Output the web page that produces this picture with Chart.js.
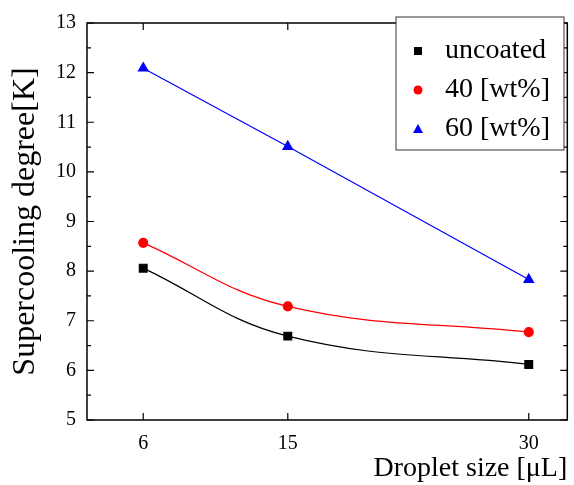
<!DOCTYPE html>
<html>
<head>
<meta charset="utf-8">
<script src="https://cdn.jsdelivr.net/npm/chart.js@4.4.0/dist/chart.umd.min.js"></script>
<style>
  html, body { margin: 0; padding: 0; background: #fff; }
  #wrap { width: 574px; height: 485px; }
</style>
</head>
<body>
<div id="wrap"><canvas id="myChart" width="574" height="485"></canvas></div>
<script>
// data
var dropletSize = [6, 15, 30];
var uncoated = [8.06, 6.69, 6.12];
var wt40 = [8.57, 7.29, 6.77];
var wt60 = [12.09, 10.51, 7.83];
var xTicks = [6, 15, 30];
var yTicks = [5, 6, 7, 8, 9, 10, 11, 12, 13];

var serif = "'Liberation Serif', 'Times New Roman', serif";

function toPoints(xs, ys) {
    var pts = [];
    for (var i = 0; i < xs.length; i++) {
        pts.push({ x: xs[i], y: ys[i] });
    }
    return pts;
}

// frame, inward ticks and the boxed legend
var framePlugin = {
    id: 'frame',
    afterDraw: function (chart) {
        var ctx = chart.ctx;
        var a = chart.chartArea;
        var xs = chart.scales.x, ys = chart.scales.y;
        ctx.save();
        ctx.strokeStyle = '#000';
        ctx.lineWidth = 1.5;
        ctx.strokeRect(a.left, a.top, a.right - a.left, a.bottom - a.top);

        ctx.lineWidth = 1.2;
        ctx.beginPath();
        // y major + minor
        for (var v = 5; v <= 13; v += 0.5) {
            var py = ys.getPixelForValue(v);
            var len = (v % 1 === 0) ? 7 : 4;
            ctx.moveTo(a.left, py); ctx.lineTo(a.left + len, py);
            ctx.moveTo(a.right, py); ctx.lineTo(a.right - len, py);
        }
        // x major
        xTicks.forEach(function (t) {
            var px = xs.getPixelForValue(t);
            ctx.moveTo(px, a.bottom); ctx.lineTo(px, a.bottom - 7);
            ctx.moveTo(px, a.top); ctx.lineTo(px, a.top + 7);
        });
        ctx.stroke();

        // legend
        var lx = 396, ly = 17, lw = 168, lh = 133;
        ctx.lineWidth = 1;
        ctx.strokeStyle = '#333';
        ctx.fillStyle = '#fff';
        ctx.fillRect(lx, ly, lw, lh);
        ctx.strokeRect(lx, ly, lw, lh);
        var rows = [
            { label: 'uncoated', color: '#000', style: 'rect' },
            { label: '40 [wt%]', color: '#ff0000', style: 'circle' },
            { label: '60 [wt%]', color: '#0000ff', style: 'triangle' }
        ];
        ctx.font = 'normal 28px ' + serif;
        ctx.textBaseline = 'middle';
        rows.forEach(function (r, i) {
            var cy = 51 + i * 39;
            ctx.fillStyle = r.color;
            ctx.beginPath();
            if (r.style === 'rect') {
                ctx.rect(414, cy - 4, 8, 8);
            } else if (r.style === 'circle') {
                ctx.arc(418, cy, 4.5, 0, Math.PI * 2);
            } else {
                ctx.moveTo(418, cy - 5); ctx.lineTo(423, cy + 4); ctx.lineTo(413, cy + 4); ctx.closePath();
            }
            ctx.fill();
            ctx.fillStyle = '#000';
            ctx.fillText(r.label, 445, cy);
        });
        ctx.restore();
    }
};

var config = {
    type: 'line',
    data: {
        datasets: [
            {
                label: 'uncoated',
                data: toPoints(dropletSize, uncoated),
                borderColor: '#000',
                backgroundColor: '#000',
                borderWidth: 1.2,
                pointStyle: 'rect',
                pointRadius: 5.5,
                tension: 0.4
            },
            {
                label: '40 [wt%]',
                data: toPoints(dropletSize, wt40),
                borderColor: '#ff0000',
                backgroundColor: '#ff0000',
                borderWidth: 1.2,
                pointStyle: 'circle',
                pointRadius: 4.5,
                tension: 0.4
            },
            {
                label: '60 [wt%]',
                data: toPoints(dropletSize, wt60),
                borderColor: '#0000ff',
                backgroundColor: '#0000ff',
                borderWidth: 1.2,
                pointStyle: 'triangle',
                pointRadius: 5.5,
                tension: 0
            }
        ]
    },
    options: {
        responsive: false,
        animation: false,
        layout: { padding: { top: 15, right: 6, left: 0, bottom: 0 } },
        plugins: {
            legend: false,
            tooltip: { enabled: false }
        },
        scales: {
            x: {
                type: 'linear',
                min: 2.5,
                max: 32.4,
                afterBuildTicks: function (scale) {
                    scale.ticks = xTicks.map(function (v) { return { value: v }; });
                },
                afterFit: function (scale) { scale.height = 65; },
                grid: { display: false, drawTicks: false },
                border: { display: false },
                ticks: {
                    color: '#000',
                    font: { family: serif, size: 20 },
                    padding: 12,
                    maxRotation: 0
                },
                title: {
                    display: true,
                    text: 'Droplet size [\u03bcL]',
                    align: 'end',
                    color: '#000',
                    font: { family: serif, size: 28 },
                    padding: { top: -6, bottom: 0 }
                }
            },
            y: {
                min: 5,
                max: 13,
                afterBuildTicks: function (scale) {
                    scale.ticks = yTicks.map(function (v) { return { value: v }; });
                },
                afterFit: function (scale) { scale.width = 87; },
                grid: { display: false, drawTicks: false },
                border: { display: false },
                ticks: {
                    color: '#000',
                    font: { family: serif, size: 20 },
                    padding: 11
                },
                title: {
                    display: true,
                    text: 'Supercooling degree[K]',
                    color: '#000',
                    font: { family: serif, size: 32 },
                    padding: { top: 6, bottom: 0 }
                }
            }
        }
    },
    plugins: [framePlugin]
};

var myChart = new Chart(document.getElementById('myChart'), config);
</script>
</body>
</html>
